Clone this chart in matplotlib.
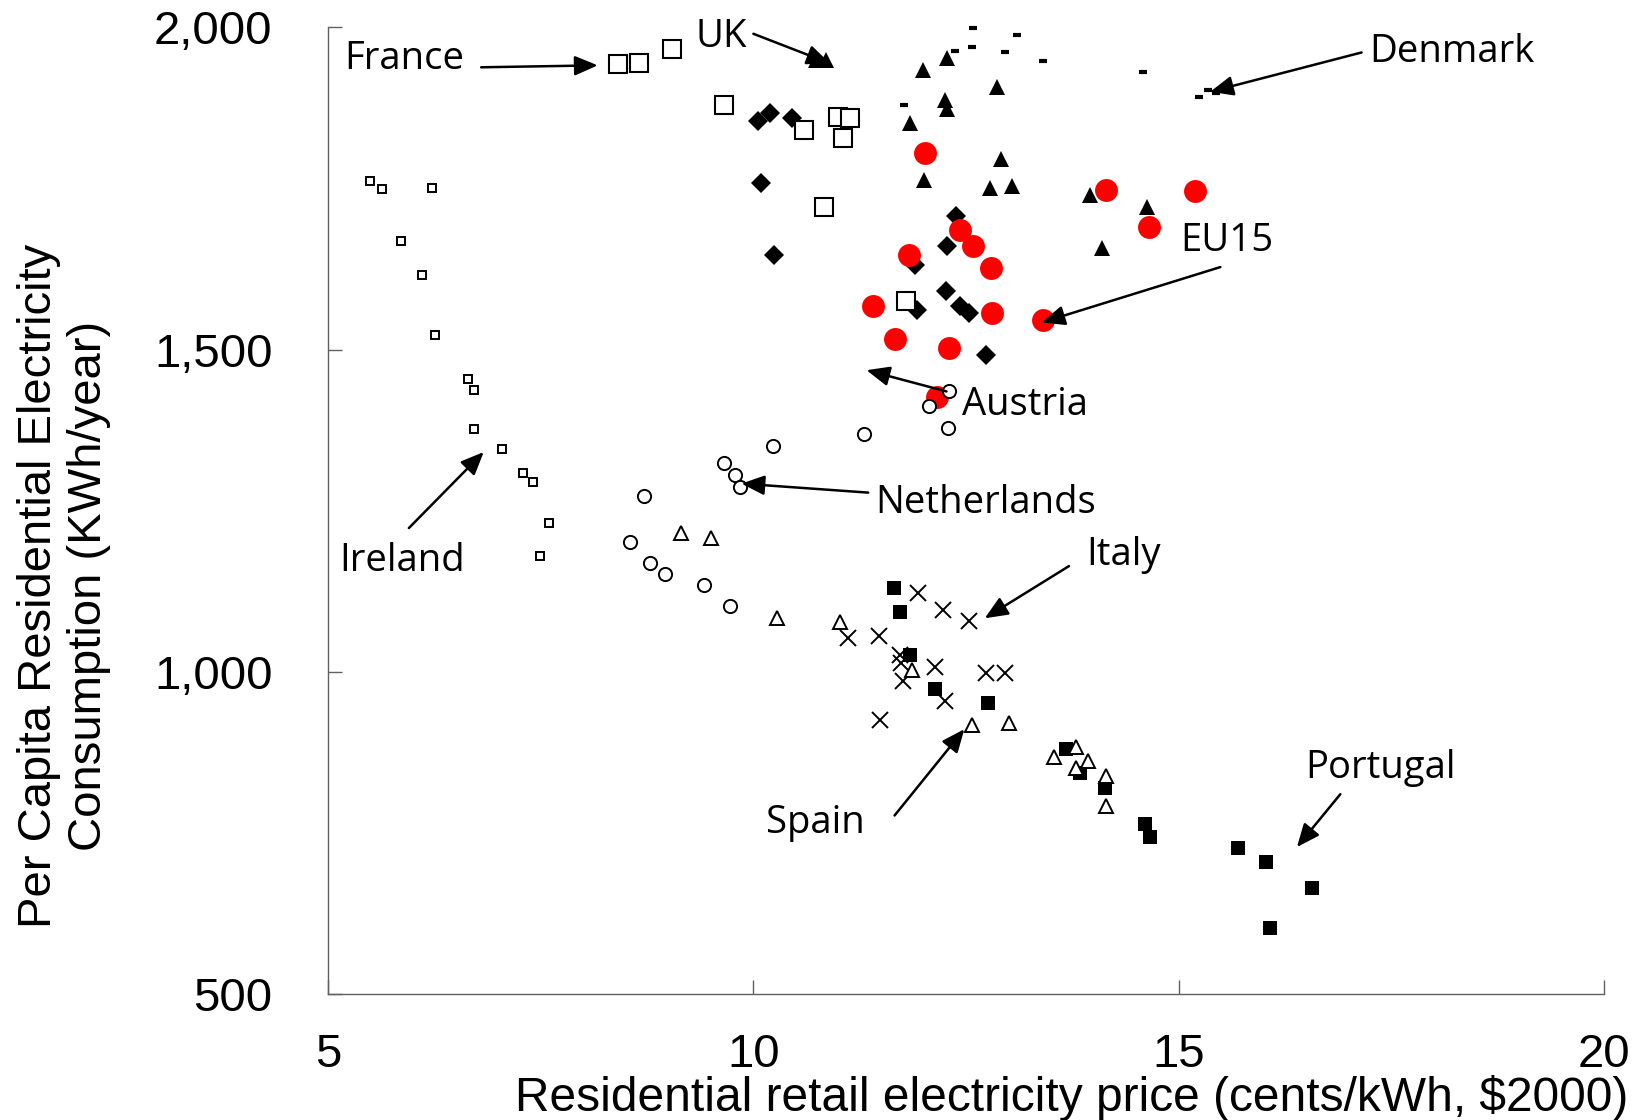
import matplotlib
matplotlib.use("Agg")
import matplotlib.pyplot as plt
from matplotlib.ticker import FuncFormatter

# price in cents/kWh ($2000), consumption in kWh per person per year
france_price = [8.41, 8.66, 9.04, 9.65, 10.60, 11.00, 11.14, 11.05, 10.83, 11.80]
france_use = [1943, 1944, 1966, 1879, 1840, 1861, 1860, 1828, 1721, 1576]

uk_price = [10.74, 10.85]
uk_use = [1949, 1949]

tri_price = [11.99, 12.28, 12.86, 12.25, 12.28, 11.84, 12.91, 12.01, 12.78, 13.04, 13.96, 14.63, 14.10]
tri_use = [1934, 1953, 1907, 1887, 1874, 1851, 1795, 1763, 1750, 1754, 1740, 1721, 1657]

diamond_price = [10.05, 10.20, 10.45, 10.09, 10.24, 12.38, 12.28, 11.90, 12.26, 11.92, 12.43, 12.53, 12.74]
diamond_use = [1854, 1867, 1860, 1758, 1647, 1707, 1661, 1631, 1591, 1561, 1568, 1556, 1491]

denmark_price = [12.58, 13.10, 12.57, 12.37, 12.96, 13.40, 11.77, 14.58, 15.24, 15.35, 15.44]
denmark_use = [1999, 1988, 1970, 1963, 1961, 1948, 1879, 1930, 1892, 1903, 1898]

eu15_price = [12.02, 14.14, 15.19, 14.65, 12.43, 12.58, 11.83, 12.79, 11.41, 12.81, 13.41, 11.66, 12.30, 12.16]
eu15_use = [1805, 1748, 1746, 1690, 1685, 1660, 1647, 1626, 1568, 1557, 1546, 1517, 1503, 1427]

austria_price = [12.30, 12.07, 12.29, 11.30]
austria_use = [1436, 1412, 1378, 1369]

nl_price = [10.23, 9.65, 9.78, 9.84, 8.71, 8.55, 8.79, 8.96, 9.42, 9.73]
nl_use = [1351, 1324, 1305, 1287, 1273, 1202, 1169, 1152, 1135, 1102]

ireland_price = [5.49, 5.64, 6.22, 5.86, 6.11, 6.26, 6.65, 6.72, 6.72, 7.04, 7.29, 7.41, 7.60, 7.49]
ireland_use = [1761, 1749, 1750, 1669, 1616, 1523, 1454, 1437, 1376, 1346, 1309, 1295, 1231, 1180]

spain_price = [9.15, 9.50, 10.28, 11.02, 11.87, 12.57, 13.01, 13.53, 13.79, 13.93, 13.79, 14.15, 14.14]
spain_use = [1215, 1208, 1083, 1078, 1003, 918, 920, 867, 884, 862, 850, 838, 791]

portugal_price = [11.65, 11.72, 11.84, 12.14, 12.76, 13.67, 13.84, 14.13, 14.60, 14.66, 15.70, 16.03, 16.57, 16.07]
portugal_use = [1130, 1093, 1026, 974, 952, 880, 843, 819, 764, 743, 727, 705, 664, 602]

italy_price = [11.93, 12.23, 12.53, 11.11, 11.48, 11.72, 11.74, 11.76, 12.14, 12.74, 12.96, 12.25, 11.49]
italy_use = [1122, 1096, 1079, 1052, 1055, 1026, 1013, 986, 1008, 998, 998, 955, 925]

x_ticks = [5, 10, 15, 20]
y_ticks = [500, 1000, 1500, 2000]

fig = plt.figure(figsize=(16.46, 11.2), dpi=100)
ax = fig.add_axes([0.1993, 0.1125, 0.7752, 0.8631])

def pts(x, y, **kw):
    ax.plot(x, y, linestyle="none", clip_on=False, **kw)

pts(portugal_price, portugal_use, marker="s", ms=10.5, mfc="black", mec="black", mew=0)
pts(italy_price, italy_use, marker="x", ms=12, mec="black", mew=1.4)
pts(spain_price, spain_use, marker="^", ms=10, mfc="white", mec="black", mew=1.4)
pts(diamond_price, diamond_use, marker="D", ms=10.5, mfc="black", mec="black", mew=0)
pts(eu15_price, eu15_use, marker="o", ms=16.5, mfc="#ff0000", mec="#ff0000", mew=0)
pts(france_price, france_use, marker="s", ms=13, mfc="white", mec="black", mew=1.5)
pts(tri_price, tri_use, marker="^", ms=11, mfc="black", mec="black", mew=0)
pts(uk_price, uk_use, marker="^", ms=11, mfc="black", mec="black", mew=0)
pts(denmark_price, denmark_use, marker="_", ms=6, mec="black", mew=3)
pts(ireland_price, ireland_use, marker="s", ms=6.3, mfc="white", mec="black", mew=1.4)
pts(nl_price, nl_use, marker="o", ms=9.5, mfc="white", mec="black", mew=1.4)
pts(austria_price, austria_use, marker="o", ms=9.5, mfc="white", mec="black", mew=1.4)

# label text position, arrow tail, arrow head (data units)
notes = [
    ("France", (5.89, 1951), (6.80, 1938), (8.17, 1941)),
    ("UK", (9.62, 1985), (10.00, 1990), (10.90, 1944)),
    ("Denmark", (18.21, 1961), (17.15, 1961), (15.37, 1900)),
    ("EU15", (15.57, 1668), (15.49, 1628), (13.39, 1542)),
    ("Austria", (13.19, 1414), (12.27, 1435), (11.33, 1468)),
    ("Netherlands", (12.73, 1262), (11.35, 1278), (9.86, 1292)),
    ("Ireland", (5.87, 1172), (5.95, 1223), (6.83, 1341)),
    ("Italy", (14.35, 1181), (13.71, 1164), (12.72, 1083)),
    ("Spain", (10.73, 765), (11.66, 777), (12.48, 911)),
    ("Portugal", (17.37, 850), (16.90, 810), (16.39, 728)),
]
for label, txy, tail, head in notes:
    ax.text(txy[0], txy[1], label, fontsize=27.5, family="Open Sans",
            ha="center", va="center", zorder=5)
    ax.annotate("", xy=head, xytext=tail,
                arrowprops=dict(arrowstyle="-|>,head_length=0.7,head_width=0.3",
                                mutation_scale=20, lw=1.8, color="black",
                                shrinkA=0, shrinkB=0), zorder=5)

ax.set_xlim(5, 20)
ax.set_ylim(500, 2000)
ax.set_xticks(x_ticks)
ax.set_yticks(y_ticks)
ax.yaxis.set_major_formatter(FuncFormatter(lambda v, p: f"{int(v):,}"))
for side in ["top", "right"]:
    ax.spines[side].set_visible(False)
for side in ["left", "bottom"]:
    ax.spines[side].set_color("#606060")
    ax.spines[side].set_linewidth(1.0)
ax.tick_params(direction="in", length=10, width=1.0, color="#606060",
               labelsize=34, labelcolor="black")
ax.tick_params(axis="x", pad=28)
ax.tick_params(axis="y", pad=40)
for lab in ax.get_xticklabels() + ax.get_yticklabels():
    lab.set_family("Liberation Sans")

fig.text(1072 / 1646, 1 - 1098 / 1120,
         "Residential retail electricity price (cents/kWh, $2000)",
         fontsize=34.5, family="Liberation Sans", ha="center", va="center")
fig.text(64 / 1646, 1 - 586 / 1120,
         "Per Capita Residential Electricity\nConsumption (KWh/year)",
         fontsize=34, family="Liberation Sans", rotation=90,
         ha="center", va="center", multialignment="center", linespacing=1.2)

fig.savefig("out.png", dpi=100)
